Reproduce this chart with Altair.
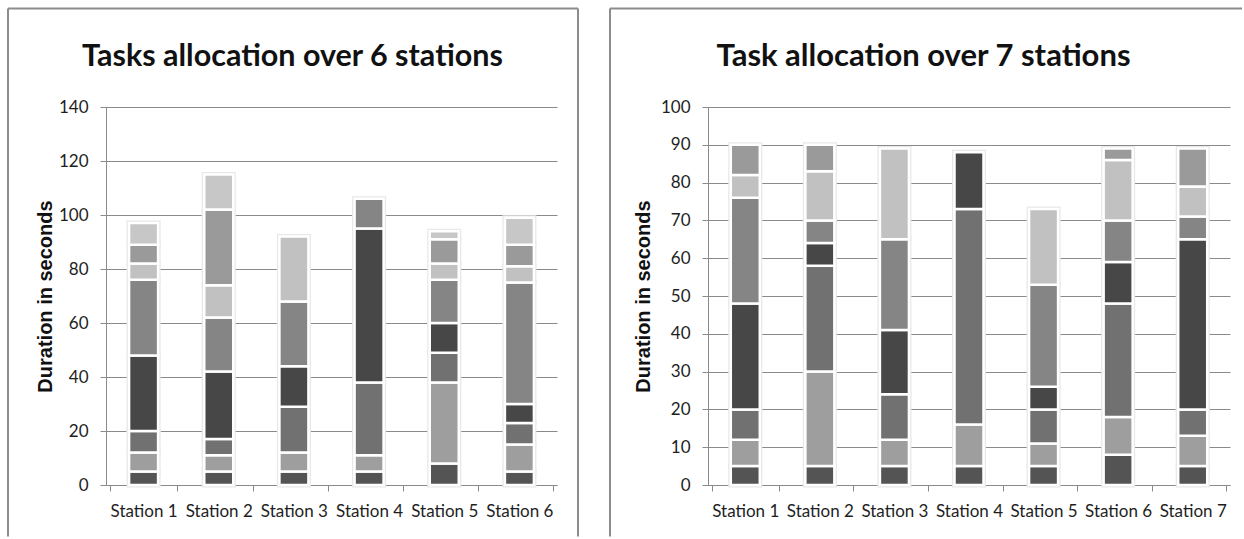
import altair as alt
import pandas as pd

# Six-station line balance: durations of the stacked task blocks, bottom to top
stations6 = ["Station 1", "Station 2", "Station 3", "Station 4", "Station 5", "Station 6"]
tasks6 = [
    [5, 7, 8, 28, 28, 6, 7, 8],
    [5, 6, 6, 25, 20, 12, 28, 13],
    [5, 7, 17, 15, 24, 24],
    [5, 6, 27, 57, 11],
    [8, 30, 11, 11, 16, 6, 9, 3],
    [5, 10, 8, 7, 45, 6, 8, 10],
]

# Seven-station line balance
stations7 = ["Station 1", "Station 2", "Station 3", "Station 4",
             "Station 5", "Station 6", "Station 7"]
tasks7 = [
    [5, 7, 8, 28, 28, 6, 8],
    [5, 25, 28, 6, 6, 13, 7],
    [5, 7, 12, 17, 24, 24],
    [5, 11, 57, 15],
    [5, 6, 9, 6, 27, 20],
    [8, 10, 30, 11, 11, 16, 3],
    [5, 8, 7, 45, 6, 8, 10],
]

blocks = ["Block 1", "Block 2", "Block 3", "Block 4",
          "Block 5", "Block 6", "Block 7", "Block 8"]
block_colors = ["#545454", "#9e9e9e", "#717171", "#474747",
                "#858585", "#c1c1c1", "#9a9a9a", "#c7c7c7"]

title6 = "Tasks allocation over 6 stations"
title7 = "Task allocation over 7 stations"
y_title = "Duration in seconds"

FONT = "Lato"
GRID = "#8a8a8a"
FRAME = "#8c8c8c"
H = 378


def to_frame(stations, tasks):
    rows = []
    for st, durs in zip(stations, tasks):
        for k, d in enumerate(durs):
            rows.append({"station": st, "block": blocks[k], "k": k, "duration": d})
    return pd.DataFrame(rows)


def panel(stations, tasks, title, title_size, ymax, ystep, width, title_x, ytitle_x,
          frame_right, closed_right):
    df = to_frame(stations, tasks)
    one = pd.DataFrame({"t": [title]})

    x_enc = alt.X(
        "station:N",
        sort=stations,
        scale=alt.Scale(domain=stations),
        axis=alt.Axis(
            title=None, labelAngle=0, tickBand="extent", grid=False,
            domainColor=GRID, tickColor=GRID, tickSize=6, labelPadding=12,
            labelFont=FONT, labelFontSize=17, labelColor="#1e1e1e",
        ),
    )
    y_enc = alt.Y(
        "duration:Q",
        stack="zero",
        scale=alt.Scale(domain=[0, ymax], nice=False),
        axis=alt.Axis(
            values=list(range(0, ymax + 1, ystep)), title=y_title,
            gridColor=GRID, domainColor=GRID, tickColor=GRID, tickSize=6,
            labelPadding=12, labelFont=FONT, labelFontSize=17, labelColor="#1e1e1e",
            titleFont="Liberation Sans", titleFontSize=20, titleFontWeight="bold",
            titleColor="#111111", titleX=ytitle_x, titleY=H / 2, titleAngle=270,
            titleAlign="center", titleBaseline="middle",
        ),
    )
    color_enc = alt.Color("block:N", scale=alt.Scale(domain=blocks, range=block_colors),
                          legend=None)
    order_enc = alt.Order("k:Q", sort="ascending")

    base = alt.Chart(df).encode(x=x_enc, y=y_enc, color=color_enc, order=order_enc)
    glow = base.mark_bar(size=29, stroke="#e8e8e8", strokeWidth=5)
    bars = base.mark_bar(size=29, stroke="white", strokeWidth=2.5)

    heading = alt.Chart(one).mark_text(
        font=FONT, fontSize=title_size, fontWeight="bold", color="#111111",
        align="center", baseline="alphabetic",
    ).encode(x=alt.value(title_x), y=alt.value(-41.5), text="t:N")

    # panel border: left, top and (for the first panel) right edges
    frame_cfg = dict(color=FRAME, strokeWidth=2)
    left_edge = alt.Chart(one).mark_rule(**frame_cfg).encode(
        x=alt.value(-98), y=alt.value(-98.5), y2=alt.value(429.5))
    top_edge = alt.Chart(one).mark_rule(**frame_cfg).encode(
        x=alt.value(-98), x2=alt.value(frame_right), y=alt.value(-98.5))
    layers = [left_edge, top_edge, glow, bars, heading]
    if closed_right:
        right_edge = alt.Chart(one).mark_rule(**frame_cfg).encode(
            x=alt.value(frame_right), y=alt.value(-98.5), y2=alt.value(429.5))
        layers.append(right_edge)
    return alt.layer(*layers).properties(width=width, height=H)


left = panel(stations6, tasks6, title6, 30.5, 140, 20, 451, 186.5, -61, 472, True)
right = panel(stations7, tasks7, title7, 31, 100, 10, 522, 215.5, -65, 534, False)

chart = alt.hconcat(left, right, spacing=151, bounds="flush").properties(
    padding={"left": 7, "top": 7, "right": 0, "bottom": 0},
    background="white",
).configure_view(stroke=None)

chart.save("out.html", embed_options={"renderer": "svg", "actions": False})
